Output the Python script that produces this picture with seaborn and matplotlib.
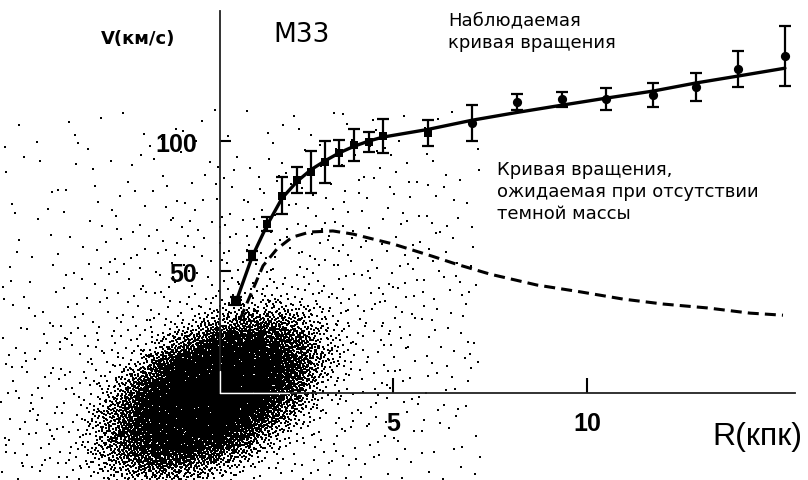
import numpy as np
import pandas as pd
import matplotlib
matplotlib.use("Agg")
import matplotlib.pyplot as plt
import seaborn as sns

# ---------------- data ----------------
R_obs = [0.95, 1.37, 1.75, 2.14, 2.53, 2.89, 3.25, 3.61, 4.00, 4.38, 4.74, 5.90,
         7.04, 8.20, 9.36, 10.5, 11.7, 12.8, 13.9, 15.1]
V_obs = [38.5, 56.0, 68.0, 79.0, 85.0, 88.0, 92.0, 95.4, 98.5, 99.6, 102.0, 103.0,
         107.0, 115.0, 116.0, 116.0, 117.7, 120.8, 127.7, 132.7]
V_err = [1.5, 1.6, 2.7, 7.0, 5.0, 8.0, 8.0, 5.0, 6.0, 4.0, 6.5, 5.0,
         7.0, 3.0, 3.0, 4.2, 4.6, 5.4, 7.0, 11.5]
marker_kind = ["square"] * 12 + ["circle"] * 8

R_fit = [0.95, 1.37, 1.75, 2.14, 2.53, 2.89, 3.25, 3.61, 4.0, 4.38, 4.74, 5.88,
         7.04, 8.2, 9.36, 10.5, 11.7, 12.8, 13.9, 15.1]
V_fit = [38.0, 55.5, 67.5, 78.0, 84.5, 89.0, 92.4, 95.4, 98.0, 100.0, 101.5, 104.4,
         108.0, 111.0, 113.8, 116.5, 119.2, 122.3, 125.0, 128.0]

R_nodm = [1.06, 1.39, 1.65, 2.01, 2.4, 2.86, 3.45, 3.97, 4.48, 5.0, 6.03, 6.64,
          7.5, 8.71, 9.82, 10.93, 11.96, 13.1, 14.2, 15.05]
V_nodm = [31.5, 43.0, 52.0, 58.5, 63.0, 65.0, 65.4, 64.2, 62.3, 60.4, 55.6, 52.6,
          48.8, 44.6, 42.0, 39.2, 37.3, 35.8, 33.8, 33.0]

x_ticks = [5, 10]
y_ticks = [50, 100]
galaxy_name = "M33"
obs_label = "Наблюдаемая\nкривая вращения"
nodm_label = "Кривая вращения,\nожидаемая при отсутствии\nтемной массы"
x_label = "R(кпк)"
y_label = "V(км/с)"

# ---------------- figure ----------------
sns.set_theme(style="white")
plt.rcParams['font.family'] = ['DejaVu Sans']

W, H = 808, 481
fig = plt.figure(figsize=(W / 100, H / 100), dpi=100)
fig.patch.set_facecolor("white")

# background layer in pixel coordinates (galaxy picture + annotations)
bg = fig.add_axes([0, 0, 1, 1])
bg.set_xlim(0, W)
bg.set_ylim(H, 0)
bg.axis("off")


def halton(count, base):
    """Deterministic Halton low-discrepancy sequence (texture for the photo)."""
    i = np.arange(1, count + 1)
    out = np.zeros(count)
    f = 1.0
    while np.any(i > 0):
        f /= base
        out += f * (i % base)
        i = i // base
    return out


n = 120000
u = halton(n, 2)
v = halton(n, 3)
w = halton(n, 5)
px = u * 480
py = 110 + v * (H - 110)
cx, cy, ang = 212, 396, np.deg2rad(30)
dx = px - cx
dy = -(py - cy)
pu = dx * np.cos(ang) + dy * np.sin(ang)
pv = -dx * np.sin(ang) + dy * np.cos(ang)
r2 = (pu / 100) ** 2 + (pv / 56) ** 2
core = 1.0 * np.exp(-r2 ** 1.8)
halo = 0.02 * np.exp(-((pu / 230) ** 2 + (pv / 150) ** 2))
dens = core + halo + 0.002
keep = w < dens
bg.scatter(px[keep], py[keep], s=2.2, c="black", marker="s", linewidths=0)

# annotations
bg.text(273, 42, galaxy_name, fontsize=19, va="baseline", color="black")
bg.text(448, 48, obs_label, fontsize=13, va="baseline", linespacing=1.3, color="black")
bg.text(497, 219, nodm_label, fontsize=13, va="baseline", linespacing=1.3, color="black")

# main axes
ax = fig.add_axes([220 / W, (H - 394) / H, (795 - 220) / W, (394 - 12) / H])
ax.patch.set_alpha(0)
ax.set_xlim(0.541, 15.36)
ax.set_ylim(3.08, 150)

obs = pd.DataFrame({"R": R_obs, "V": V_obs, "err": V_err, "kind": marker_kind})
fit = pd.DataFrame({"R": R_fit, "V": V_fit})
nodm = pd.DataFrame({"R": R_nodm, "V": V_nodm})

sns.lineplot(data=fit, x="R", y="V", ax=ax, color="black", linewidth=2.4,
             sort=False, estimator=None)
sns.lineplot(data=nodm, x="R", y="V", ax=ax, color="black", linewidth=2.2,
             sort=False, estimator=None)
ax.lines[-1].set_dashes([3.6, 2.0])

ax.errorbar(obs["R"], obs["V"], yerr=obs["err"], fmt="none", ecolor="black",
            elinewidth=1.6, capsize=4.5, capthick=1.6)
sq = obs[obs["kind"] == "square"]
ci = obs[obs["kind"] == "circle"]
sns.scatterplot(data=sq.iloc[1:], x="R", y="V", ax=ax, marker="s", s=34,
                color="black", linewidth=0)
sns.scatterplot(data=sq.iloc[:1], x="R", y="V", ax=ax, marker="s", s=60,
                color="black", linewidth=0)
sns.scatterplot(data=ci, x="R", y="V", ax=ax, marker="o", s=44,
                color="black", linewidth=0)

for side in ["top", "right"]:
    ax.spines[side].set_visible(False)
for side in ["left", "bottom"]:
    ax.spines[side].set_linewidth(1.3)
    ax.spines[side].set_color("#222222")

# the axes show white where they cross the bright galaxy core
ax.plot([0, 0], [0, 0.058], transform=ax.transAxes, color="white", lw=1.0,
        zorder=3, clip_on=False)
ax.plot([0, 0.12], [0, 0], transform=ax.transAxes, color="white", lw=1.0,
        zorder=3, clip_on=False)

ax.set_xticks(x_ticks)
ax.set_yticks(y_ticks)
ax.set_xticklabels([str(t) for t in x_ticks])
ax.set_yticklabels([str(t) for t in y_ticks])
ax.tick_params(axis="x", direction="in", length=11, width=1.5, pad=13,
               colors="black", bottom=True)
ax.tick_params(axis="y", direction="in", length=8, width=1.5, pad=16.5,
               colors="black", left=True)
for lab in ax.get_xticklabels() + ax.get_yticklabels():
    lab.set_fontfamily("Liberation Sans")
    lab.set_fontweight("bold")
    lab.set_fontsize(18)

ax.set_xlabel(x_label, fontsize=23, fontfamily="Liberation Sans", color="black")
ax.xaxis.set_label_coords(0.935, -0.072)
ax.set_ylabel(y_label, fontsize=13, fontweight="bold", rotation=0,
              ha="center", va="center", color="black")
ax.yaxis.set_label_coords(-0.1426, 0.929)

fig.savefig("out.png", dpi=100, facecolor="white")
